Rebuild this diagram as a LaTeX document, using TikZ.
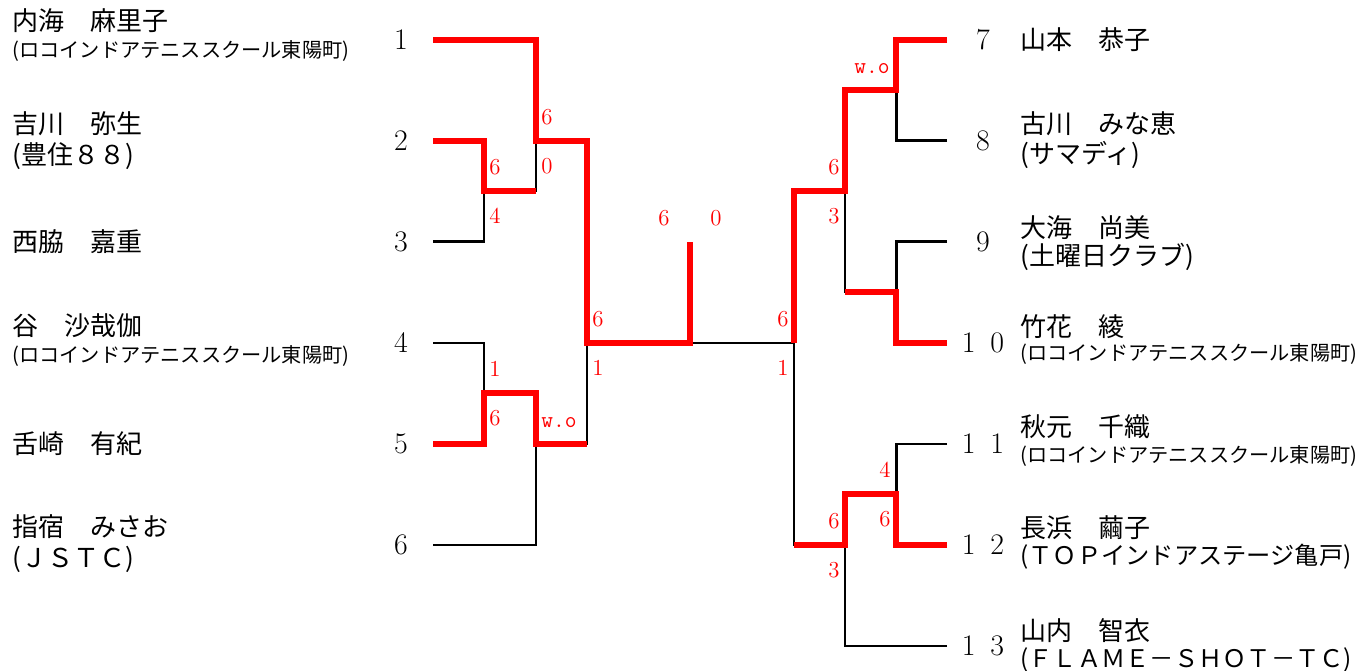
\documentclass[tikz,border=0pt]{standalone}
\usepackage{fontspec}
\newfontfamily\jp{Noto Sans CJK JP}
\usetikzlibrary{positioning}

\begin{document}
\begin{tikzpicture}[x=0.02cm, y=-0.02cm, every node/.style={inner sep=0pt},
  sen/.style={line width=1.7pt},
  kachi/.style={line width=2.9pt, red},
  namae/.style={anchor=west, font=\jp\fontsize{14.8}{16}\selectfont},
  nagai/.style={anchor=west, font=\jp\fontsize{13.8}{16}\selectfont},
  kurabu/.style={anchor=west, font=\jp\fontsize{11.5}{14}\selectfont},
  bango/.style={font=\fontsize{17}{18}\selectfont},
  ten/.style={text=red, font=\fontsize{13}{14}\selectfont}]
\useasboundingbox (0,0) rectangle (1367,671);
\coordinate (p1) at (433,40); \coordinate (p2) at (433,141); \coordinate (p3) at (433,242);
\coordinate (p4) at (433,343); \coordinate (p5) at (433,444); \coordinate (p6) at (433,545);
\coordinate (q7) at (947,40); \coordinate (q8) at (947,141); \coordinate (q9) at (947,242);
\coordinate (q10) at (947,343); \coordinate (q11) at (947,444); \coordinate (q12) at (947,545);
\coordinate (q13) at (947,646);
\coordinate (m23) at (484,191); \coordinate (m123) at (536,141); \coordinate (m45) at (484,393);
\coordinate (m456) at (536,444); \coordinate (mL) at (587,343);
\coordinate (m78) at (896,90); \coordinate (m910) at (896,292); \coordinate (m710) at (845,191);
\coordinate (m1112) at (896,494); \coordinate (m1113) at (845,545); \coordinate (mR) at (794,343);
\coordinate (fin) at (690,343); \coordinate (top) at (690,242);

\node[bango] (n1) at (401,40) {1}; \node[bango] (n2) at (401,141) {2}; \node[bango] (n3) at (401,242) {3};
\node[bango] (n4) at (401,343) {4}; \node[bango] (n5) at (401,444) {5}; \node[bango] (n6) at (401,545) {6};
\node[bango] (n7) at (983,40) {7}; \node[bango] (n8) at (983,141) {8}; \node[bango] (n9) at (983,242) {9};
\node[bango] (n10) at (983,343) {1\enspace0}; \node[bango] (n11) at (983,444) {1\enspace1};
\node[bango] (n12) at (983,545) {1\enspace2}; \node[bango] (n13) at (983,646) {1\enspace3};

\node[namae] (name1) at (12,21) {内海　麻里子};
\node[kurabu] (club1) at (12,51) {(ロコインドアテニススクール東陽町)};
\node[namae] (name2) at (12,124) {吉川　弥生};
\node[namae] (club2) at (12,156) {(豊住８８)};
\node[namae] (name3) at (12,242) {西脇　嘉重};
\node[namae] (name4) at (12,326) {谷　沙哉伽};
\node[kurabu] (club4) at (12,356) {(ロコインドアテニススクール東陽町)};
\node[namae] (name5) at (12,444) {舌崎　有紀};
\node[namae] (name6) at (12,527) {指宿　みさお};
\node[namae] (club6) at (12,559) {(ＪＳＴＣ)};
\node[namae] (name7) at (1020,40) {山本　恭子};
\node[namae] (name8) at (1020,124) {古川　みな恵};
\node[namae] (club8) at (1020,155) {(サマディ)};
\node[namae] (name9) at (1020,228) {大海　尚美};
\node[namae] (club9) at (1020,257) {(土曜日クラブ)};
\node[namae] (name10) at (1020,327) {竹花　綾};
\node[kurabu] (club10) at (1020,354) {(ロコインドアテニススクール東陽町)};
\node[namae] (name11) at (1020,427) {秋元　千織};
\node[kurabu] (club11) at (1020,456) {(ロコインドアテニススクール東陽町)};
\node[namae] (name12) at (1020,528) {長浜　繭子};
\node[nagai] (club12) at (1020,557) {(ＴＯＰインドアステージ亀戸)};
\node[namae] (name13) at (1020,631) {山内　智衣};
\node[nagai] (club13) at (1020,660) {(ＦＬＡＭＥ－ＳＨＯＴ－ＴＣ)};

\draw[sen] (p1) -| (m123) (p2) -| (m23) (p3) -| (m23) (m23) -| (m123) (m123) -| (mL)
  (p4) -| (m45) (p5) -| (m45) (m45) -| (m456) (p6) -| (m456) (m456) -| (mL) (mL) -- (mR);
\draw[sen] (q7) -| (m78) (q8) -| (m78) (q9) -| (m910) (q10) -| (m910) (m78) -| (m710) (m910) -| (m710)
  (m710) -| (mR) (q11) -| (m1112) (q12) -| (m1112) (m1112) -| (m1113) (q13) -| (m1113) (m1113) -| (mR);
\draw[kachi] (p1) -| (m123) -| (mL) -- (fin) -- (top);
\draw[kachi] (p2) -| (m23) -- (m23 -| m123);
\draw[kachi] (p5) -| (m45) -| (m456) -- (m456 -| mL);
\draw[kachi] (q7) -| (m78) -| (m710) -| (mR);
\draw[kachi] (q10) -| (m910) -- (m910 -| m710);
\draw[kachi] (q12) -| (m1112) -| (m1113) -- (m1113 -| mR);

\node[ten, above right=0.32cm and 0.1cm of m123] (s1) {6};
\node[ten, below right=0.34cm and 0.1cm of m123] (s2) {0};
\node[ten, above right=0.32cm and 0.1cm of m23] (s3) {6};
\node[ten, below right=0.34cm and 0.1cm of m23] (s4) {4};
\node[ten, above right=0.32cm and 0.1cm of m45] (s5) {1};
\node[ten, below right=0.34cm and 0.1cm of m45] (s6) {6};
\node[ten, above right=0.32cm and 0.1cm of m456] (s7) {\ttfamily w.o};
\node[ten, above right=0.32cm and 0.1cm of mL] (s8) {6};
\node[ten, below right=0.34cm and 0.1cm of mL] (s9) {1};
\node[ten, above left=0.32cm and 0.4cm of top] (s10) {6};
\node[ten, above right=0.32cm and 0.4cm of top] (s11) {0};
\node[ten, above left=0.32cm and 0.12cm of m78] (s12) {\ttfamily w.o};
\node[ten, above left=0.32cm and 0.1cm of m710] (s13) {6};
\node[ten, below left=0.34cm and 0.1cm of m710] (s14) {3};
\node[ten, above left=0.32cm and 0.1cm of mR] (s15) {6};
\node[ten, below left=0.34cm and 0.1cm of mR] (s16) {1};
\node[ten, above left=0.32cm and 0.1cm of m1112] (s17) {4};
\node[ten, below left=0.34cm and 0.1cm of m1112] (s18) {6};
\node[ten, above left=0.32cm and 0.1cm of m1113] (s19) {6};
\node[ten, below left=0.34cm and 0.1cm of m1113] (s20) {3};
\end{tikzpicture}
\end{document}
